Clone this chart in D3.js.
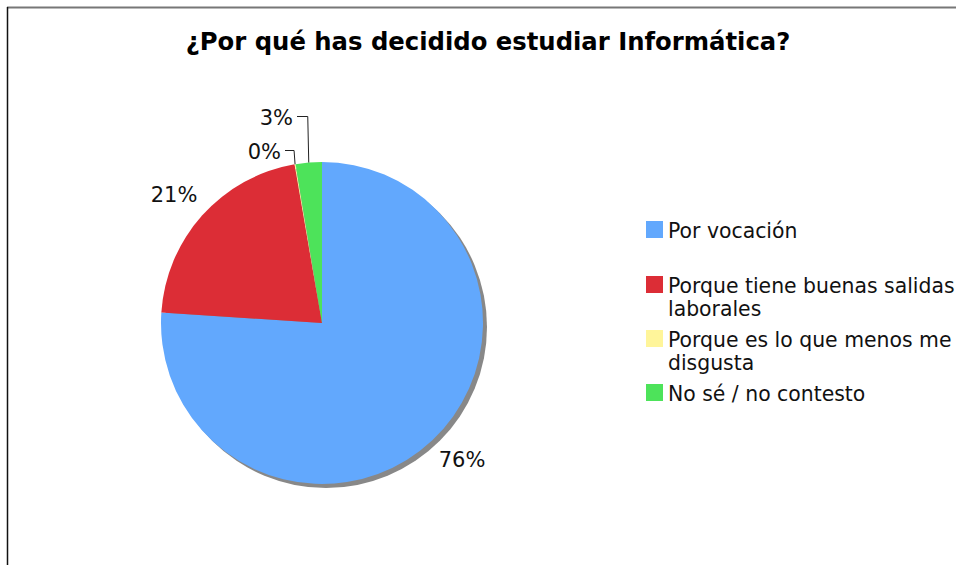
<!DOCTYPE html>
<html>
<head>
<meta charset="utf-8">
<script src="https://cdn.jsdelivr.net/npm/d3@7"></script>
<style>
  body { margin: 0; background: #fff; }
  svg { display: block; font-family: "DejaVu Sans", Verdana, sans-serif; }
</style>
</head>
<body>
<svg width="956" height="565"></svg>
<script>
let title = "¿Por qué has decidido estudiar Informática?";
let categories = ["Por vocación", "Porque tiene buenas salidas laborales", "Porque es lo que menos me disgusta", "No sé / no contesto"];
let legendLines = [["Por vocación"], ["Porque tiene buenas salidas", "laborales"], ["Porque es lo que menos me", "disgusta"], ["No sé / no contesto"]];
let values = [290, 81, 0.4, 10];
let colors = ["#62a8fd", "#dc2d36", "#fff59a", "#4de35a"];

let svg = d3.select("svg");

// frame (only top and left edges visible)
svg.append("line").attr("x1", 7).attr("x2", 956).attr("y1", 7.5).attr("y2", 7.5)
  .attr("stroke", "#777").attr("stroke-width", 2);
svg.append("line").attr("x1", 7.5).attr("x2", 7.5).attr("y1", 7).attr("y2", 565)
  .attr("stroke", "#111").attr("stroke-width", 1.5);

svg.append("text")
  .attr("x", 488).attr("y", 50)
  .attr("text-anchor", "middle")
  .style("font-weight", "bold").style("font-size", "24.3px")
  .text(title);

let cx = 322, cy = 323, r = 161;
let total = d3.sum(values);
let pie = d3.pie().sort(null).value(d => d)(values);
let arc = d3.arc().innerRadius(0).outerRadius(r);

let g = svg.append("g").attr("transform", `translate(${cx},${cy})`);

// shadow
g.append("circle").attr("cx", 4).attr("cy", 4).attr("r", r).attr("fill", "#888");

g.selectAll(".slice")
  .data(pie)
  .enter()
  .append("path")
  .attr("class", "slice")
  .attr("d", arc)
  .attr("fill", (d, i) => colors[i]);

// labels
let pct = v => Math.round(v / total * 100) + "%";
let labelPos = [
  {x: 462, y: 467, anchor: "middle"},
  {x: 174, y: 202, anchor: "middle"},
  {x: 281, y: 159, anchor: "end"},
  {x: 293, y: 125, anchor: "end"}
];
pie.forEach((d, i) => {
  let p = labelPos[i];
  svg.append("text")
    .attr("x", p.x).attr("y", p.y)
    .attr("text-anchor", p.anchor)
    .style("font-size", "21px").style("fill", "#111")
    .text(pct(d.value));
});
// leader lines for the small slices
[2, 3].forEach(i => {
  let d = pie[i];
  let a = (d.startAngle + d.endAngle) / 2;
  let ex = cx + Math.sin(a) * r, ey = cy - Math.cos(a) * r;
  let p = labelPos[i];
  let ly = p.y - 8.5;
  svg.append("path")
    .attr("d", `M${p.x + 4},${ly}H${ex - 1}L${ex},${ey}`)
    .attr("fill", "none").attr("stroke", "#222").attr("stroke-width", 1);
});

// legend
let legendY = [221, 276, 330, 384];
let legend = svg.append("g");
legendLines.forEach((lines, i) => {
  legend.append("rect")
    .attr("x", 646).attr("y", legendY[i])
    .attr("width", 17).attr("height", 17)
    .attr("fill", colors[i]);
  lines.forEach((t, j) => {
    legend.append("text")
      .attr("x", 668).attr("y", legendY[i] + 17 + j * 23)
      .style("font-size", "20.4px").style("fill", "#111")
      .text(t);
  });
});
</script>
</body>
</html>
